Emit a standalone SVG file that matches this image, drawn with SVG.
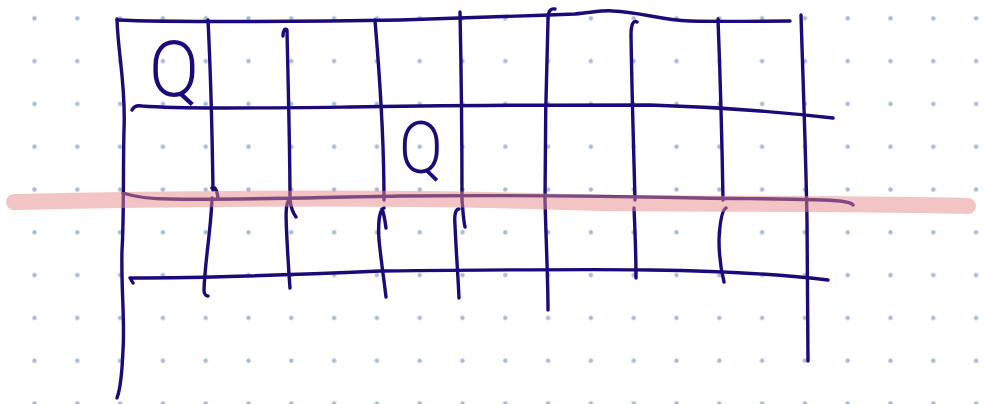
<svg xmlns="http://www.w3.org/2000/svg" width="984" height="404" viewBox="0 0 984 404">
<style>
.ink{fill:none;stroke:#1b0b79;stroke-width:3.4;stroke-linecap:round;stroke-linejoin:round}
.hl{fill:none;stroke:#e68a8a;stroke-opacity:0.5;stroke-width:16;stroke-linecap:round}
.q{fill:#1b0b79;font-family:Roboto,"Liberation Sans",sans-serif;font-weight:300;text-anchor:middle}
</style>
<defs>
<pattern id="dots" x="13.1" y="-3.1" width="42.8" height="42.8" patternUnits="userSpaceOnUse">
<circle cx="21.4" cy="21.4" r="2.2" fill="#a8bad5"/>
</pattern>
</defs>
<rect width="984" height="404" fill="#ffffff"/>
<rect width="984" height="404" fill="url(#dots)"/>
<g id="grid">
<path class="ink" d="M117,20 C160,22 300,22 400,20 C470,18 520,16 575,14 C595,12 605,10 613,11 C640,12 660,20 690,21 C730,22 760,21 790,21"/>
<path class="ink" d="M117,19 C118,55 126,85 124,130 C123,170 124,220 122,250 C121,290 125,320 123,350 C122,375 120,390 117,398"/>
<path class="ink" d="M208,20 C210,60 212,120 213,190 M212,188 C215,186 217,190 218,198 M212,198 C211,230 205,260 204,290 C204,294 206,296 208,296"/>
<path class="ink" d="M283,36 C283,30 285,28 287,30 C288,80 290,150 290,200 C291,208 293,213 296,217 M289,200 C285,204 286,220 287,240 C288,260 289,275 290,288"/>
<path class="ink" d="M375,20 C378,60 384,120 384,200 M382,209 C384,214 385,220 386,228 M384,208 C379,210 378,225 379,240 C381,260 384,280 386,297"/>
<path class="ink" d="M460,12 C461,60 462,140 462,200 C463,210 463,218 465,227 M459,209 C456,209 454,213 455,225 C456,250 458,275 459,298"/>
<path class="ink" d="M555,9 C550,8 548,12 548,20 C546,80 545,150 545,200 C546,240 548,280 548,310"/>
<path class="ink" d="M637,22 C633,20 631,25 631,35 C632,100 634,160 635,200 M634,208 C635,230 636,255 636,278"/>
<path class="ink" d="M718,19 C720,70 722,140 723,200 M726,208 C722,210 720,220 719,240 C719,260 721,270 724,282"/>
<path class="ink" d="M801,15 C803,80 806,160 807,220 C807,280 808,330 808,361"/>
<path class="ink" d="M132,110 C134,106 137,105 142,106 C180,109 260,108 350,107 C450,105 600,105 650,105 C720,107 780,112 833,118"/>
<path class="ink" d="M123,193 C135,197 150,199 170,199 C230,200 290,198 400,196 C500,195 600,196 700,198 C770,199 820,199 840,201 C848,202 852,203 853,205"/>
<path class="ink" d="M133,283 L130,278 C200,278 290,275 380,271 C480,270 600,269 650,270 C720,271 780,274 828,280"/>
</g>
<g id="labels">
<text class="q" transform="translate(174,96) scale(0.95,1)" font-size="78">Q</text>
<text class="q" transform="translate(421,173) scale(0.9,1)" font-size="72">Q</text>
</g>
<g id="highlight">
<path class="hl" d="M14,202 C200,198 400,196 600,203 C750,204 900,204 968,206"/>
</g>
</svg>
